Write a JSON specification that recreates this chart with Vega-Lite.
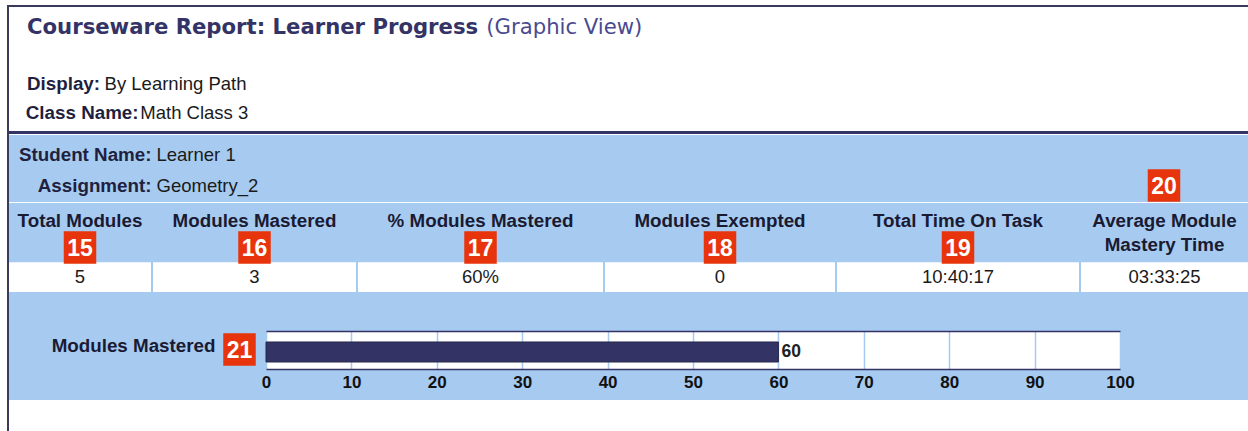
{
  "$schema": "https://vega.github.io/schema/vega-lite/v6.json",
  "background": "#a6caf0",
  "padding": 0,
  "spacing": 0,
  "config": {"view": {"stroke": null}, "concat": {"spacing": 0}, "font": "Liberation Sans"},
  "hconcat": [
    {"width": 7, "height": 431, "data": {"values": [{}]}, "mark": {"type": "point", "opacity": 0, "size": 0}, "view": {"fill": "white"}},
    {"spacing": 0, "vconcat": [
      {"width": 1241, "height": 5, "data": {"values": [{}]}, "mark": {"type": "point", "opacity": 0, "size": 0}, "view": {"fill": "white"}},
      {"width": 1241, "height": 2, "data": {"values": [{}]}, "mark": {"type": "point", "opacity": 0, "size": 0}, "view": {"fill": "#3a3a5c"}},
      {"spacing": 0, "hconcat": [
        {"width": 2, "height": 424, "data": {"values": [{}]}, "mark": {"type": "point", "opacity": 0, "size": 0}, "view": {"fill": "#3a3a5c"}},
        {"spacing": 0, "vconcat": [
          {
            "width": 1239, "height": 124,
            "view": {"fill": "white"},
            "data": {"values": [
              {"line": "title", "role": "label", "text": "Courseware Report: Learner Progress"},
              {"line": "title", "role": "value", "text": "(Graphic View)"},
              {"line": "display", "role": "label", "text": "Display:"},
              {"line": "display", "role": "value", "text": "By Learning Path"},
              {"line": "class", "role": "label", "text": "Class Name:"},
              {"line": "class", "role": "value", "text": "Math Class 3"}
            ]},
            "encoding": {
              "y": {"field": "line", "type": "nominal", "scale": {"type": "point", "domain": ["title", "gap", "display", "class"], "range": [26.6, 111.5], "padding": 0}, "axis": null},
              "text": {"field": "text"}
            },
            "layer": [
              {"transform": [{"filter": "datum.line == 'title' && datum.role == 'label'"}],
               "mark": {"type": "text", "align": "left", "baseline": "alphabetic", "font": "DejaVu Sans", "fontWeight": "bold", "fontSize": 21.2, "color": "#333366"},
               "encoding": {"x": {"field": "role", "type": "nominal", "scale": {"type": "point", "domain": ["label", "value"], "range": [18, 477.3], "padding": 0}, "axis": null}}},
              {"transform": [{"filter": "datum.line == 'title' && datum.role == 'value'"}],
               "mark": {"type": "text", "align": "left", "baseline": "alphabetic", "font": "DejaVu Sans", "fontSize": 21.2, "color": "#4a4a90"},
               "encoding": {"x": {"field": "role", "type": "nominal", "scale": {"type": "point", "domain": ["label", "value"], "range": [18, 477.3], "padding": 0}, "axis": null}}},
              {"transform": [{"filter": "datum.line == 'display' && datum.role == 'label'"}],
               "mark": {"type": "text", "align": "left", "baseline": "alphabetic", "fontWeight": "bold", "fontSize": 18.8, "color": "#1f1f3f"},
               "encoding": {"x": {"field": "role", "type": "nominal", "scale": {"type": "point", "domain": ["label", "value"], "range": [18, 95.6], "padding": 0}, "axis": null}}},
              {"transform": [{"filter": "datum.line == 'display' && datum.role == 'value'"}],
               "mark": {"type": "text", "align": "left", "baseline": "alphabetic", "fontSize": 18.5, "color": "#1a1a1a"},
               "encoding": {"x": {"field": "role", "type": "nominal", "scale": {"type": "point", "domain": ["label", "value"], "range": [18, 95.6], "padding": 0}, "axis": null}}},
              {"transform": [{"filter": "datum.line == 'class' && datum.role == 'label'"}],
               "mark": {"type": "text", "align": "left", "baseline": "alphabetic", "fontWeight": "bold", "fontSize": 18.8, "color": "#1f1f3f"},
               "encoding": {"x": {"field": "role", "type": "nominal", "scale": {"type": "point", "domain": ["label", "value"], "range": [16.8, 131.3], "padding": 0}, "axis": null}}},
              {"transform": [{"filter": "datum.line == 'class' && datum.role == 'value'"}],
               "mark": {"type": "text", "align": "left", "baseline": "alphabetic", "fontSize": 18.5, "color": "#1a1a1a"},
               "encoding": {"x": {"field": "role", "type": "nominal", "scale": {"type": "point", "domain": ["label", "value"], "range": [16.8, 131.3], "padding": 0}, "axis": null}}}
            ],
            "resolve": {"scale": {"x": "independent"}}
          },
          {"width": 1239, "height": 3, "data": {"values": [{}]}, "mark": {"type": "point", "opacity": 0, "size": 0}, "view": {"fill": "#333366"}},
          {"width": 1239, "height": 1, "data": {"values": [{}]}, "mark": {"type": "point", "opacity": 0, "size": 0}, "view": {"fill": "white"}},
          {"spacing": 0, "hconcat": [
            {
              "width": 1071, "height": 67,
              "data": {"values": [
                {"row": "Student Name", "role": "label", "text": "Student Name:"},
                {"row": "Student Name", "role": "value", "text": "Learner 1"},
                {"row": "Assignment", "role": "label", "text": "Assignment:"},
                {"row": "Assignment", "role": "value", "text": "Geometry_2"}
              ]},
              "encoding": {
                "x": {"field": "role", "type": "nominal", "scale": {"type": "point", "domain": ["label", "value"], "range": [142.5, 147.5], "padding": 0}, "axis": null},
                "y": {"field": "row", "type": "nominal", "scale": {"type": "point", "domain": ["Student Name", "Assignment"], "range": [26.3, 56.7], "padding": 0}, "axis": null},
                "text": {"field": "text"}
              },
              "layer": [
                {"transform": [{"filter": "datum.role == 'label'"}], "mark": {"type": "text", "align": "right", "baseline": "alphabetic", "fontWeight": "bold", "fontSize": 18.8, "color": "#1f1f3f"}},
                {"transform": [{"filter": "datum.role == 'value'"}], "mark": {"type": "text", "align": "left", "baseline": "alphabetic", "fontSize": 18.5, "color": "#1a1a1a"}}
              ]
            },
            {"width": 168, "height": 67, "data": {"values": [{"badge": "20"}]},
             "layer": [
               {"mark": {"type": "square", "size": 1056, "color": "#e8340c", "filled": true, "opacity": 1, "yOffset": 17}},
               {"mark": {"type": "text", "fontSize": 23, "fontWeight": "bold", "color": "white", "dy": 18.3}, "encoding": {"text": {"field": "badge"}}}
             ]}
          ]},
          {"width": 1239, "height": 1, "data": {"values": [{}]}, "mark": {"type": "point", "opacity": 0, "size": 0}, "view": {"fill": "white"}},
          {"spacing": 2, "hconcat": [
            {"width": 142, "height": 89,
             "data": {"values": [{"band": "header", "kind": "header", "text": "Total Modules"}, {"band": "header2", "kind": "badge", "text": "15"}, {"band": "value", "kind": "value", "text": "5"}]},
             "encoding": {"y": {"field": "band", "type": "nominal", "scale": {"type": "band", "domain": ["header", "header2", "value"], "paddingInner": 0, "paddingOuter": 0}, "axis": null}},
             "layer": [
               {"transform": [{"filter": "datum.kind == 'value'"}], "mark": {"type": "rect", "fill": "white"}},
               {"transform": [{"filter": "datum.kind == 'value'"}], "mark": {"type": "text", "fontSize": 18.5, "color": "#1a1a1a"}, "encoding": {"text": {"field": "text"}}},
               {"transform": [{"filter": "datum.kind == 'header'"}], "mark": {"type": "text", "fontSize": 18.8, "fontWeight": "bold", "color": "#1a1a33", "dy": 3.3}, "encoding": {"text": {"field": "text"}}},
               {"transform": [{"filter": "datum.kind == 'badge'"}], "mark": {"type": "square", "size": 1056, "color": "#e8340c", "filled": true, "opacity": 1}},
               {"transform": [{"filter": "datum.kind == 'badge'"}], "mark": {"type": "text", "fontSize": 23, "fontWeight": "bold", "color": "white", "dy": 1.3}, "encoding": {"text": {"field": "text"}}}
             ]},
            {"width": 203, "height": 89,
             "data": {"values": [{"band": "header", "kind": "header", "text": "Modules Mastered"}, {"band": "header2", "kind": "badge", "text": "16"}, {"band": "value", "kind": "value", "text": "3"}]},
             "encoding": {"y": {"field": "band", "type": "nominal", "scale": {"type": "band", "domain": ["header", "header2", "value"], "paddingInner": 0, "paddingOuter": 0}, "axis": null}},
             "layer": [
               {"transform": [{"filter": "datum.kind == 'value'"}], "mark": {"type": "rect", "fill": "white"}},
               {"transform": [{"filter": "datum.kind == 'value'"}], "mark": {"type": "text", "fontSize": 18.5, "color": "#1a1a1a"}, "encoding": {"text": {"field": "text"}}},
               {"transform": [{"filter": "datum.kind == 'header'"}], "mark": {"type": "text", "fontSize": 18.8, "fontWeight": "bold", "color": "#1a1a33", "dy": 3.3}, "encoding": {"text": {"field": "text"}}},
               {"transform": [{"filter": "datum.kind == 'badge'"}], "mark": {"type": "square", "size": 1056, "color": "#e8340c", "filled": true, "opacity": 1}},
               {"transform": [{"filter": "datum.kind == 'badge'"}], "mark": {"type": "text", "fontSize": 23, "fontWeight": "bold", "color": "white", "dy": 1.3}, "encoding": {"text": {"field": "text"}}}
             ]},
            {"width": 245, "height": 89,
             "data": {"values": [{"band": "header", "kind": "header", "text": "% Modules Mastered"}, {"band": "header2", "kind": "badge", "text": "17"}, {"band": "value", "kind": "value", "text": "60%"}]},
             "encoding": {"y": {"field": "band", "type": "nominal", "scale": {"type": "band", "domain": ["header", "header2", "value"], "paddingInner": 0, "paddingOuter": 0}, "axis": null}},
             "layer": [
               {"transform": [{"filter": "datum.kind == 'value'"}], "mark": {"type": "rect", "fill": "white"}},
               {"transform": [{"filter": "datum.kind == 'value'"}], "mark": {"type": "text", "fontSize": 18.5, "color": "#1a1a1a"}, "encoding": {"text": {"field": "text"}}},
               {"transform": [{"filter": "datum.kind == 'header'"}], "mark": {"type": "text", "fontSize": 18.8, "fontWeight": "bold", "color": "#1a1a33", "dy": 3.3}, "encoding": {"text": {"field": "text"}}},
               {"transform": [{"filter": "datum.kind == 'badge'"}], "mark": {"type": "square", "size": 1056, "color": "#e8340c", "filled": true, "opacity": 1}},
               {"transform": [{"filter": "datum.kind == 'badge'"}], "mark": {"type": "text", "fontSize": 23, "fontWeight": "bold", "color": "white", "dy": 1.3}, "encoding": {"text": {"field": "text"}}}
             ]},
            {"width": 230, "height": 89,
             "data": {"values": [{"band": "header", "kind": "header", "text": "Modules Exempted"}, {"band": "header2", "kind": "badge", "text": "18"}, {"band": "value", "kind": "value", "text": "0"}]},
             "encoding": {"y": {"field": "band", "type": "nominal", "scale": {"type": "band", "domain": ["header", "header2", "value"], "paddingInner": 0, "paddingOuter": 0}, "axis": null}},
             "layer": [
               {"transform": [{"filter": "datum.kind == 'value'"}], "mark": {"type": "rect", "fill": "white"}},
               {"transform": [{"filter": "datum.kind == 'value'"}], "mark": {"type": "text", "fontSize": 18.5, "color": "#1a1a1a"}, "encoding": {"text": {"field": "text"}}},
               {"transform": [{"filter": "datum.kind == 'header'"}], "mark": {"type": "text", "fontSize": 18.8, "fontWeight": "bold", "color": "#1a1a33", "dy": 3.3}, "encoding": {"text": {"field": "text"}}},
               {"transform": [{"filter": "datum.kind == 'badge'"}], "mark": {"type": "square", "size": 1056, "color": "#e8340c", "filled": true, "opacity": 1}},
               {"transform": [{"filter": "datum.kind == 'badge'"}], "mark": {"type": "text", "fontSize": 23, "fontWeight": "bold", "color": "white", "dy": 1.3}, "encoding": {"text": {"field": "text"}}}
             ]},
            {"width": 242, "height": 89,
             "data": {"values": [{"band": "header", "kind": "header", "text": "Total Time On Task"}, {"band": "header2", "kind": "badge", "text": "19"}, {"band": "value", "kind": "value", "text": "10:40:17"}]},
             "encoding": {"y": {"field": "band", "type": "nominal", "scale": {"type": "band", "domain": ["header", "header2", "value"], "paddingInner": 0, "paddingOuter": 0}, "axis": null}},
             "layer": [
               {"transform": [{"filter": "datum.kind == 'value'"}], "mark": {"type": "rect", "fill": "white"}},
               {"transform": [{"filter": "datum.kind == 'value'"}], "mark": {"type": "text", "fontSize": 18.5, "color": "#1a1a1a"}, "encoding": {"text": {"field": "text"}}},
               {"transform": [{"filter": "datum.kind == 'header'"}], "mark": {"type": "text", "fontSize": 18.8, "fontWeight": "bold", "color": "#1a1a33", "dy": 3.3}, "encoding": {"text": {"field": "text"}}},
               {"transform": [{"filter": "datum.kind == 'badge'"}], "mark": {"type": "square", "size": 1056, "color": "#e8340c", "filled": true, "opacity": 1}},
               {"transform": [{"filter": "datum.kind == 'badge'"}], "mark": {"type": "text", "fontSize": 23, "fontWeight": "bold", "color": "white", "dy": 1.3}, "encoding": {"text": {"field": "text"}}}
             ]},
            {"width": 167, "height": 89,
             "data": {"values": [{"band": "header", "kind": "header", "text": "Average Module"}, {"band": "header2", "kind": "header", "text": "Mastery Time"}, {"band": "value", "kind": "value", "text": "03:33:25"}]},
             "encoding": {"y": {"field": "band", "type": "nominal", "scale": {"type": "band", "domain": ["header", "header2", "value"], "paddingInner": 0, "paddingOuter": 0}, "axis": null}},
             "layer": [
               {"transform": [{"filter": "datum.kind == 'value'"}], "mark": {"type": "rect", "fill": "white"}},
               {"transform": [{"filter": "datum.kind == 'value'"}], "mark": {"type": "text", "fontSize": 18.5, "color": "#1a1a1a"}, "encoding": {"text": {"field": "text"}}},
               {"transform": [{"filter": "datum.kind == 'header' && datum.band == 'header'"}], "mark": {"type": "text", "fontSize": 18.8, "fontWeight": "bold", "color": "#1a1a33", "dy": 3.3}, "encoding": {"text": {"field": "text"}}},
               {"transform": [{"filter": "datum.kind == 'header' && datum.band == 'header2'"}], "mark": {"type": "text", "fontSize": 18.8, "fontWeight": "bold", "color": "#1a1a33", "dy": -3}, "encoding": {"text": {"field": "text"}}}
             ]}
          ]},
          {"spacing": 0, "bounds": "flush", "hconcat": [
            {"width": 214, "height": 108, "data": {"values": [{}]}, "mark": {"type": "point", "opacity": 0, "size": 0}},
            {"width": 33, "height": 108, "data": {"values": [{"badge": "21"}]},
             "layer": [
               {"mark": {"type": "square", "size": 1056, "color": "#e8340c", "filled": true, "opacity": 1, "yOffset": 3.5}},
               {"mark": {"type": "text", "fontSize": 23, "fontWeight": "bold", "color": "white", "dy": 4.8}, "encoding": {"text": {"field": "badge"}}}
             ]},
            {"width": 10, "height": 108, "data": {"values": [{}]}, "mark": {"type": "point", "opacity": 0, "size": 0}},
            {"spacing": 0, "bounds": "flush", "vconcat": [
              {"width": 854, "height": 39, "data": {"values": [{}]}, "mark": {"type": "point", "opacity": 0, "size": 0}},
              {
                "width": 854, "height": 38,
                "view": {"fill": "white"},
                "data": {"values": [{"measure": "Modules Mastered", "percent": 60}]},
                "encoding": {
                  "y": {"field": "measure", "type": "nominal", "scale": {"paddingInner": 0, "paddingOuter": 0.45, "align": 0.611},
                        "axis": {"title": null, "ticks": false, "domain": false, "labelFont": "Liberation Sans", "labelFontWeight": "bold", "labelFontSize": 18.8, "labelColor": "#1a1a33", "labelPadding": 51, "labelOffset": -6, "labelLimit": 400}}
                },
                "layer": [
                  {"mark": {"type": "bar", "color": "#333366", "stroke": "#26264d", "strokeWidth": 1},
                   "encoding": {"x": {"field": "percent", "type": "quantitative", "scale": {"domain": [0, 100], "nice": false},
                     "axis": {"orient": "bottom", "values": [0, 10, 20, 30, 40, 50, 60, 70, 80, 90, 100], "grid": true, "gridColor": "#a6caf0", "gridWidth": 1.5, "gridOpacity": 1, "domain": true, "domainColor": "#333366", "domainWidth": 1.5, "ticks": false, "labelFont": "Liberation Sans", "labelFontWeight": "bold", "labelFontSize": 17, "labelColor": "#111111", "labelPadding": 5, "labelFlush": false, "labelOverlap": false, "title": null}}}},
                  {"mark": {"type": "text", "align": "left", "dx": 3, "fontSize": 17.5, "fontWeight": "bold", "color": "#222222"},
                   "encoding": {"text": {"field": "percent", "type": "quantitative"},
                     "x": {"field": "percent", "type": "quantitative", "axis": {"orient": "top", "labels": false, "ticks": false, "grid": false, "domain": true, "domainColor": "#333366", "domainWidth": 1.5, "title": null}}}}
                ],
                "resolve": {"axis": {"x": "independent"}}
              },
              {"width": 854, "height": 31, "data": {"values": [{}]}, "mark": {"type": "point", "opacity": 0, "size": 0}}
            ]},
            {"width": 128, "height": 108, "data": {"values": [{}]}, "mark": {"type": "point", "opacity": 0, "size": 0}}
          ]},
          {"width": 1239, "height": 31, "data": {"values": [{}]}, "mark": {"type": "point", "opacity": 0, "size": 0}, "view": {"fill": "white"}}
        ]}
      ]}
    ]}
  ]
}
